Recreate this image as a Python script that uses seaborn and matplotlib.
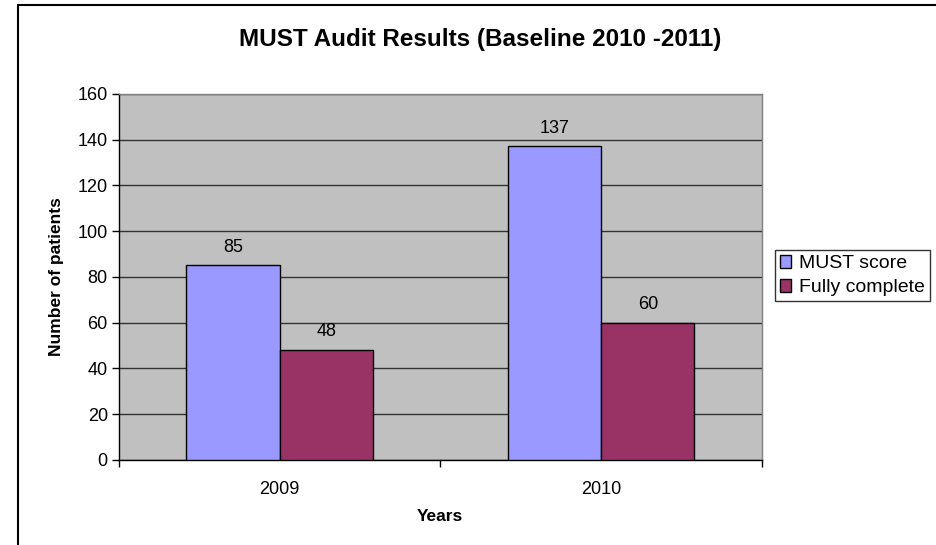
import matplotlib
matplotlib.use("Agg")
import matplotlib.pyplot as plt
import seaborn as sns
import pandas as pd
from matplotlib.lines import Line2D

years = ["2009", "2010"]
series_names = ["MUST score", "Fully complete"]
must_score = [85, 137]
fully_complete = [48, 60]
colors = ["#9999FF", "#993366"]

df = pd.DataFrame({
    "Year": years * 2,
    "Series": [series_names[0]] * 2 + [series_names[1]] * 2,
    "Value": must_score + fully_complete,
})

sns.set_theme(style="white", rc={"text.color": "black", "axes.labelcolor": "black",
                                 "xtick.color": "black", "ytick.color": "black"})
plt.rcParams['font.family'] = ['Liberation Sans', 'DejaVu Sans']

fig = plt.figure(figsize=(9.36, 5.45), dpi=100)
ax = fig.add_axes([0.127, 0.156, 0.687, 0.672])
ax.set_facecolor("#C0C0C0")

sns.barplot(data=df, x="Year", y="Value", hue="Series", palette=colors,
            width=0.58, edgecolor="black", linewidth=1, ax=ax, saturation=1,
            zorder=3)

for c in ax.containers:
    ax.bar_label(c, padding=7, fontsize=13, color="black")

ax.set_ylim(0, 160)
ax.set_xlim(-0.5, 1.5)
ax.set_yticks(range(0, 161, 20))
ax.yaxis.grid(True, color="#333333", linewidth=1, zorder=0)
ax.set_axisbelow(True)
ax.tick_params(axis="y", which="major", left=True, length=5, width=1, color="black",
               labelcolor="black", labelsize=13, pad=3)
ax.tick_params(axis="x", which="major", bottom=False, labelsize=13, labelcolor="black", pad=9)
ax.set_xticks([-0.5, 0.5, 1.5], minor=True)
ax.tick_params(axis="x", which="minor", bottom=True, length=5, width=1, color="black")

for s in ["top", "right"]:
    ax.spines[s].set_color("#808080")
    ax.spines[s].set_linewidth(1)
for s in ["left", "bottom"]:
    ax.spines[s].set_color("black")
    ax.spines[s].set_linewidth(1)

ax.set_xlabel("Years", fontsize=12.5, fontweight="bold", labelpad=8, color="black")
ax.set_ylabel("Number of patients", fontsize=12.5, fontweight="bold", labelpad=10, color="black")

fig.text(0.513, 0.927, "MUST Audit Results (Baseline 2010 -2011)", ha="center", va="center",
         fontsize=17.5, fontweight="bold", color="black")

leg = ax.legend(loc="center left", bbox_to_anchor=(1.02, 0.503), frameon=True, fontsize=14,
                handlelength=0.6, handleheight=0.6, handletextpad=0.4, borderpad=0.25,
                labelspacing=0.35, fancybox=False, borderaxespad=0)
leg.get_frame().set_edgecolor("black")
leg.get_frame().set_linewidth(1)
for t in leg.get_texts():
    t.set_color("black")

# figure border (left and top edges visible in reference)
x0 = 17.5 / 936
y0 = 1 - 5 / 545
fig.add_artist(Line2D([x0, x0], [0, y0], transform=fig.transFigure, color="black", linewidth=1.5))
fig.add_artist(Line2D([x0, 1], [y0, y0], transform=fig.transFigure, color="black", linewidth=1.5))

fig.savefig("out.png", dpi=100)
